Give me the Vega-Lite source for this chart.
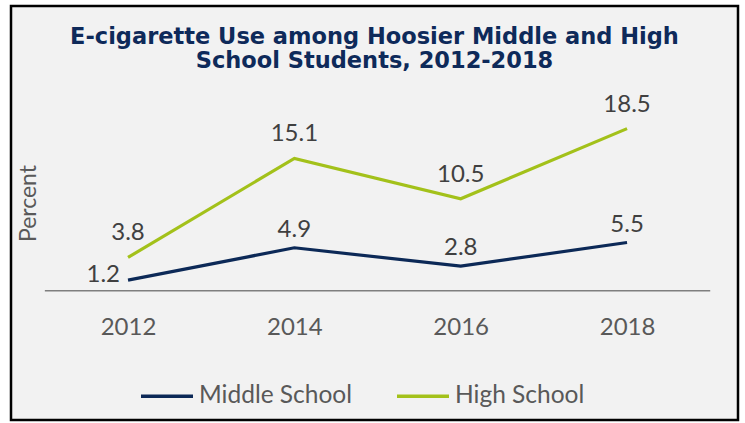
{
  "$schema": "https://vega.github.io/schema/vega-lite/v6.json",
  "autosize": "none",
  "width": 727,
  "height": 414,
  "padding": {"left": 11, "top": 6, "right": 7, "bottom": 3},
  "background": "white",
  "config": {
    "view": {"fill": "#f2f2f2", "stroke": "#000000", "strokeWidth": 2.5},
    "font": "Lato"
  },
  "title": {
    "text": ["E-cigarette Use among Hoosier Middle and High", "School Students, 2012-2018"],
    "font": "DejaVu Sans",
    "fontSize": 22.5,
    "fontWeight": "bold",
    "color": "#0e2a5a",
    "anchor": "middle",
    "frame": "group",
    "offset": -66,
    "lineHeight": 23.5
  },
  "data": {
    "values": [
      {"year": 2012, "school": "Middle School", "value": 1.2},
      {"year": 2014, "school": "Middle School", "value": 4.9},
      {"year": 2016, "school": "Middle School", "value": 2.8},
      {"year": 2018, "school": "Middle School", "value": 5.5},
      {"year": 2012, "school": "High School", "value": 3.8},
      {"year": 2014, "school": "High School", "value": 15.1},
      {"year": 2016, "school": "High School", "value": 10.5},
      {"year": 2018, "school": "High School", "value": 18.5}
    ]
  },
  "layer": [
    {
      "data": {"values": [{}]},
      "mark": {"type": "rule", "color": "#7f7f7f", "strokeWidth": 1.5},
      "encoding": {
        "x": {"datum": 2011, "type": "quantitative", "scale": {"domain": [2010.593, 2019.334], "nice": false, "zero": false}},
        "x2": {"datum": 2019},
        "y": {"datum": 0, "type": "quantitative", "scale": {"domain": [-14.76, 32.5], "nice": false, "zero": false}}
      }
    },
    {
      "mark": {"type": "line", "strokeWidth": 3.2},
      "encoding": {
        "x": {
          "field": "year", "type": "quantitative",
          "scale": {"domain": [2010.593, 2019.334], "nice": false, "zero": false},
          "axis": {
            "values": [2012, 2014, 2016, 2018], "format": "d", "domain": false, "ticks": false, "tickSize": 0, "grid": false,
            "labelFont": "Lato", "labelFontSize": 24, "labelColor": "#595959", "labelBaseline": "alphabetic",
            "labelPadding": 44, "offset": -129.3, "title": null, "labelFlush": false
          }
        },
        "y": {
          "field": "value", "type": "quantitative",
          "scale": {"domain": [-14.76, 32.5], "nice": false, "zero": false},
          "axis": {
            "domain": false, "ticks": false, "labels": false, "grid": false,
            "title": "Percent", "titleFont": "Lato", "titleFontSize": 23, "titleFontWeight": "normal",
            "titleColor": "#595959", "titleX": 24, "titleY": 197, "titleBaseline": "alphabetic", "titleAngle": -90
          }
        },
        "color": {
          "field": "school", "type": "nominal",
          "scale": {"domain": ["Middle School", "High School"], "range": ["#0c2957", "#a3c11a"]},
          "legend": {
            "orient": "none", "legendX": 128, "legendY": 362, "direction": "horizontal", "title": null,
            "symbolType": "stroke", "symbolSize": 2704, "symbolStrokeWidth": 3.5,
            "labelFont": "Lato", "labelFontSize": 24.5, "labelColor": "#595959", "labelOffset": 4, "columnPadding": 37
          }
        }
      }
    },
    {
      "transform": [{"filter": "datum.school === 'High School'"}],
      "mark": {"type": "text", "font": "Lato", "fontSize": 24, "color": "#404040", "baseline": "alphabetic", "dy": -17},
      "encoding": {
        "x": {"field": "year", "type": "quantitative"},
        "y": {"field": "value", "type": "quantitative"},
        "text": {"field": "value", "type": "quantitative", "format": ".1f"}
      }
    },
    {
      "transform": [{"filter": "datum.school === 'Middle School' && datum.year !== 2012"}],
      "mark": {"type": "text", "font": "Lato", "fontSize": 24, "color": "#404040", "baseline": "alphabetic", "dy": -11},
      "encoding": {
        "x": {"field": "year", "type": "quantitative"},
        "y": {"field": "value", "type": "quantitative"},
        "text": {"field": "value", "type": "quantitative", "format": ".1f"}
      }
    },
    {
      "transform": [{"filter": "datum.school === 'Middle School' && datum.year === 2012"}],
      "mark": {"type": "text", "font": "Lato", "fontSize": 24, "color": "#404040", "baseline": "alphabetic", "align": "right", "dx": -8, "dy": 2},
      "encoding": {
        "x": {"field": "year", "type": "quantitative"},
        "y": {"field": "value", "type": "quantitative"},
        "text": {"field": "value", "type": "quantitative", "format": ".1f"}
      }
    }
  ]
}
